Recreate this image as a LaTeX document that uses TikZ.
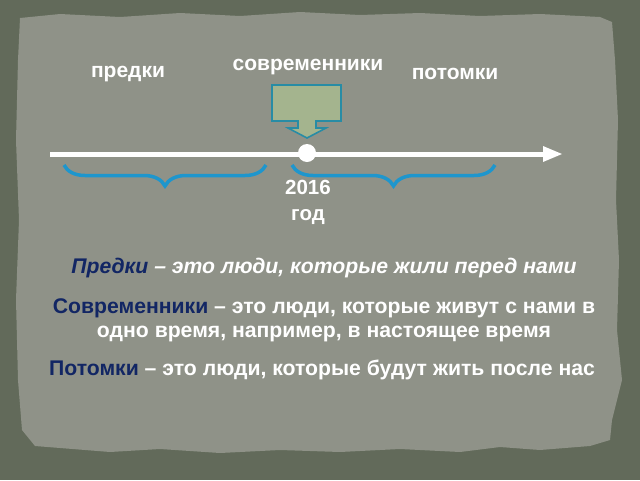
\documentclass[tikz,border=0pt]{standalone}
\usepackage{fontspec}
\setmainfont{Liberation Sans}
\usetikzlibrary{decorations.pathreplacing}
\definecolor{outerbg}{RGB}{98,106,90}
\definecolor{paper}{RGB}{143,146,136}
\definecolor{boxfill}{RGB}{164,180,142}
\definecolor{boxline}{RGB}{40,140,165}
\definecolor{bracecol}{RGB}{30,150,205}
\definecolor{navy}{RGB}{18,38,100}
\tikzset{
  toplabel/.style={text=white,font=\fontsize{21}{24}\selectfont\bfseries,inner sep=0pt},
  yearlabel/.style={text=white,font=\fontsize{20.5}{24}\selectfont\bfseries,inner sep=0pt,align=center},
  bodytext/.style={text=white,font=\fontsize{21.2}{24}\selectfont\bfseries,inner sep=0pt,align=center},
  bracestyle/.style={draw=bracecol,line width=3.5pt,decorate,decoration={brace,mirror,amplitude=21pt}},
}
\begin{document}
\begin{tikzpicture}[x=1pt,y=-1pt]
\useasboundingbox (0,0) rectangle (640,480);
\fill[outerbg] (0,0) rectangle (640,480);
\fill[paper] (20,18) -- (60,14) -- (120,17) -- (180,13) -- (240,16) -- (300,12) -- (360,15) -- (420,13) -- (480,16) -- (540,14) -- (600,17) -- (612,22)
 -- (615,60) -- (618,120) -- (616,200) -- (619,260) -- (617,330) -- (622,380) -- (612,420) -- (610,440)
 -- (590,446) -- (540,450) -- (500,447) -- (460,452) -- (400,449) -- (340,452) -- (280,450) -- (220,453) -- (160,449) -- (110,452) -- (60,448) -- (35,446)
 -- (22,430) -- (18,380) -- (16,300) -- (19,220) -- (16,140) -- (18,60) -- cycle;

\node[toplabel] (pred) at (128,74) {предки};
\node[toplabel] (sovr) at (308,67) {современники};
\node[toplabel] (potom) at (455,74) {потомки};

\draw[boxline,fill=boxfill,line width=1.6pt] (272,85) -- (341,85) -- (341,121) -- (316,121) -- (316,128) -- (326,128) -- (307,138) -- (288,128) -- (298,128) -- (298,121) -- (272,121) -- cycle;

\coordinate (lstart) at (50,154);
\coordinate (lend) at (562,154);
\draw[white,line width=5pt] (lstart) -- (545,154);
\fill[white] (543,146) -- (lend) -- (543,162) -- cycle;
\node[circle,fill=white,minimum size=18pt,inner sep=0pt] (now) at (307,153) {};

\coordinate (b1l) at (64,165);
\coordinate (b1r) at (266,165);
\coordinate (b2l) at (292,165);
\coordinate (b2r) at (495,165);
\draw[bracestyle] (b1l) -- (b1r);
\draw[bracestyle] (b2l) -- (b2r);

\node[yearlabel] (year) at (308,202) {2016\\[2pt]год};

\node[bodytext] (t1) at (324,268) {\textcolor{navy}{\itshape Предки} {\itshape – это люди, которые жили перед нами}};
\node[bodytext] (t2) at (324,320) {\textcolor{navy}{Современники} – это люди, которые живут с нами в\\одно время, например, в настоящее время};
\node[bodytext] (t3) at (322,370) {\textcolor{navy}{Потомки} – это люди, которые будут жить после нас};
\end{tikzpicture}
\end{document}
